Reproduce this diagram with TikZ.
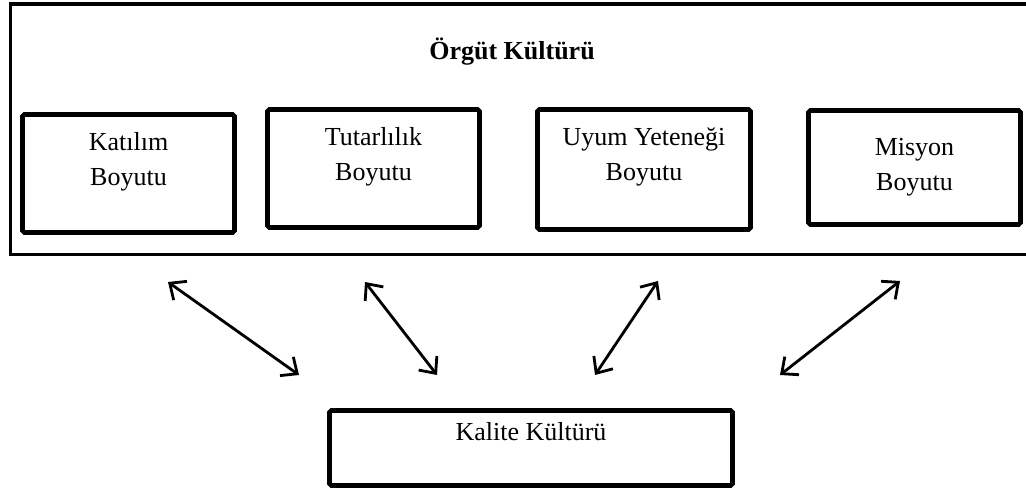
\documentclass[tikz,border=0pt]{standalone}
\usepackage{fontspec}
\setmainfont{Liberation Serif}
\usepackage{tikz}
\usepackage{xcolor}
\usetikzlibrary{arrows.meta}

\begin{document}
\begin{tikzpicture}[
  frame/.style={draw, line width=2.2pt, minimum width=20.49cm, minimum height=5.01cm},
  dim/.style={draw, line width=2.6pt, rounded corners=1pt, minimum width=4.24cm, minimum height=2.36cm},
  lbl/.style={align=center, font=\fontsize{14.8}{20}\selectfont},
  arr/.style={{Straight Barb[length=2.6mm,width=4.6mm]}-{Straight Barb[length=2.6mm,width=4.6mm]}, line width=1.6pt}
]
  \useasboundingbox (0,0) rectangle (20.52,9.82);
  \node[frame] (org) at (10.455,7.235) {};
  \node[lbl, font=\fontsize{14.8}{20}\selectfont\bfseries] (title) at (10.24,8.78) {Örgüt Kültürü};
  \node[dim] (kat) at (2.57,6.35) {};
  \node[dim] (tut) at (7.47,6.45) {};
  \node[dim, minimum width=4.26cm, minimum height=2.4cm] (uyum) at (12.88,6.43) {};
  \node[dim, minimum height=2.28cm] (mis) at (18.29,6.47) {};
  \node[lbl] (kattxt)  at ([yshift=0.23cm]kat.center)  {Katılım\\Boyutu};
  \node[lbl] (tuttxt)  at ([yshift=0.23cm]tut.center)  {Tutarlılık\\Boyutu};
  \node[lbl] (uyumtxt) at ([yshift=0.25cm]uyum.center) {Uyum Yeteneği\\Boyutu};
  \node[lbl] (mistxt)  at (mis.center) {Misyon\\Boyutu};
  \node[dim, minimum width=8.06cm, minimum height=1.5cm] (kal) at (10.62,0.86) {};
  \node[lbl] (kaltxt) at ([yshift=0.32cm]kal.center) {Kalite Kültürü};
  \coordinate (k1) at (3.36,4.18);   \coordinate (k2) at (5.98,2.32);
  \coordinate (t1) at (7.30,4.18);   \coordinate (t2) at (8.74,2.32);
  \coordinate (u1) at (13.16,4.20);  \coordinate (u2) at (11.90,2.32);
  \coordinate (m1) at (18.00,4.20);  \coordinate (m2) at (15.60,2.32);
  \draw[arr] (k1) -- (k2);
  \draw[arr] (t1) -- (t2);
  \draw[arr] (u1) -- (u2);
  \draw[arr] (m1) -- (m2);
\end{tikzpicture}
\end{document}
